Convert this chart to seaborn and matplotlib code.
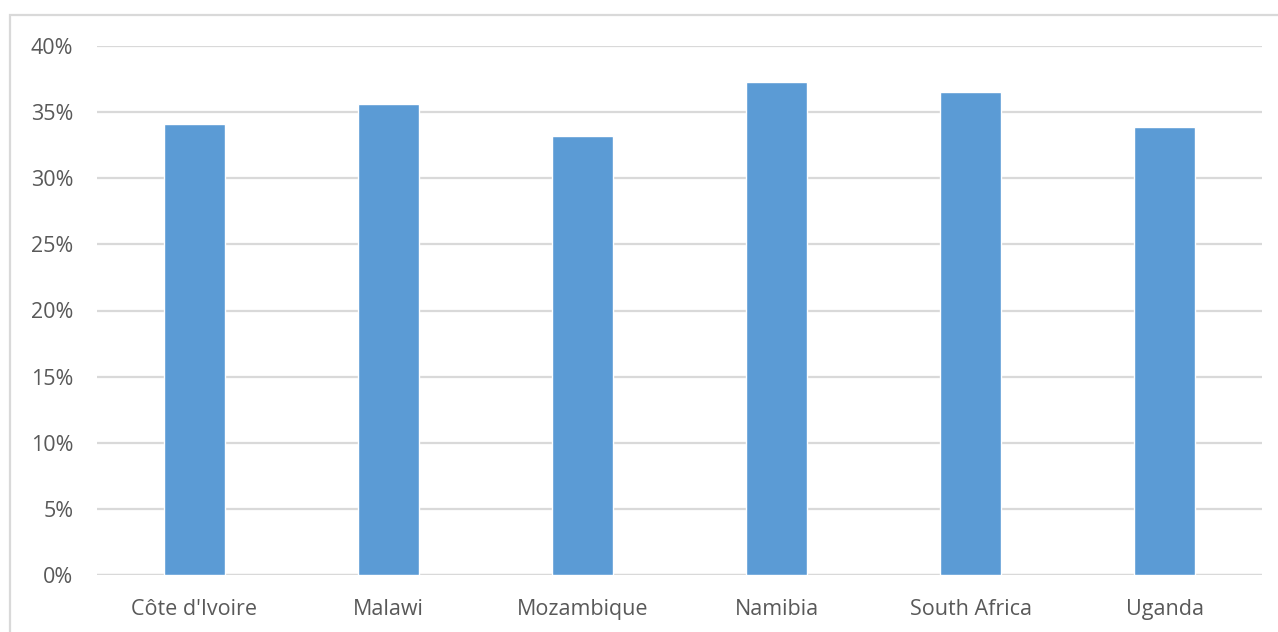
import matplotlib
matplotlib.use("Agg")
import matplotlib.pyplot as plt
import seaborn as sns
import pandas as pd
from matplotlib.patches import Rectangle
from matplotlib.ticker import PercentFormatter

countries = ["Côte d'Ivoire", "Malawi", "Mozambique", "Namibia", "South Africa", "Uganda"]
shares = [0.341, 0.356, 0.332, 0.373, 0.365, 0.339]
yticks = [0.0, 0.05, 0.10, 0.15, 0.20, 0.25, 0.30, 0.35, 0.40]

BAR = "#5B9BD5"
GRID = "#D9D9D9"
TEXT = "#595959"

sns.set_style("white")
plt.rcParams["font.family"] = ["Open Sans", "DejaVu Sans"]

df = pd.DataFrame({"country": countries, "share": shares})

fig = plt.figure(figsize=(12.78, 6.32), dpi=100)
ax = fig.add_axes([97 / 1278, 57 / 632, 1165 / 1278, 529 / 632])

sns.barplot(data=df, x="country", y="share", color=BAR, width=0.315,
            saturation=1, ax=ax, zorder=3)

ax.set_ylim(0, 0.40)
ax.set_yticks(yticks)
ax.yaxis.set_major_formatter(PercentFormatter(1.0, decimals=0))
ax.grid(axis="y", color=GRID, linewidth=1.6, zorder=0)
ax.set_axisbelow(True)
for s in ax.spines.values():
    s.set_visible(False)
ax.axhline(0, color=GRID, linewidth=1.6, zorder=2)
ax.set_xlabel("")
ax.set_ylabel("")
ax.tick_params(axis="both", length=0, labelsize=15.5, colors=TEXT)
ax.tick_params(axis="y", pad=17)
ax.tick_params(axis="x", pad=17)

# outer chart border
fig.patches.append(Rectangle((10 / 1278, -0.05), 1.1, 1.05 - 15 / 632,
                             transform=fig.transFigure, fill=False,
                             edgecolor=GRID, linewidth=1.6))

fig.savefig("out.png", dpi=100)
